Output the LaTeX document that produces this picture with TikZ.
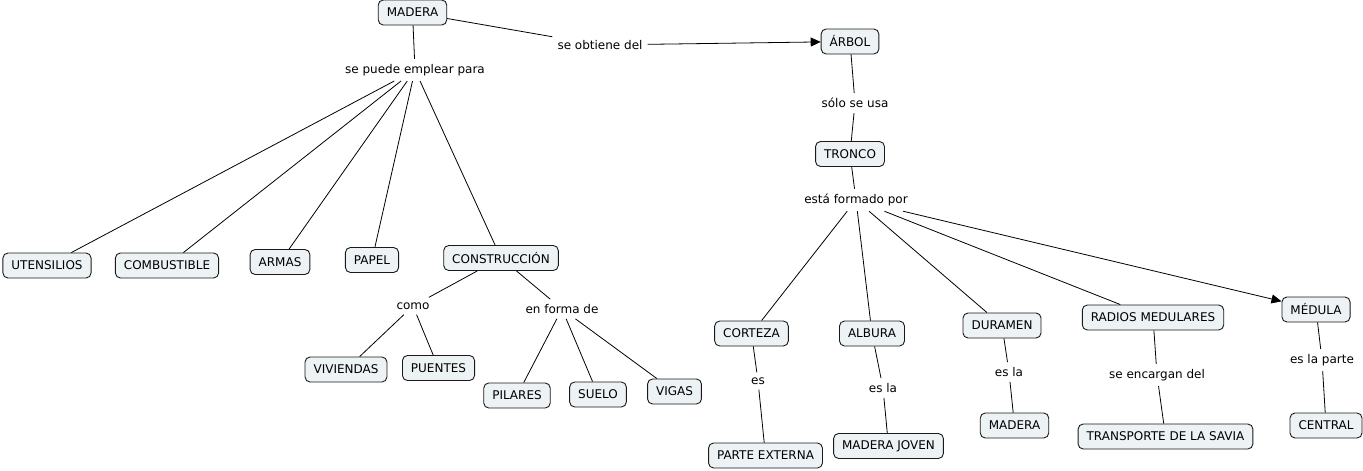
\documentclass[tikz,border=0pt]{standalone}
\usepackage{fontspec}
\setmainfont{DejaVu Sans}
\usetikzlibrary{arrows.meta}
\definecolor{cfill}{HTML}{EDF2F5}
\definecolor{cline}{HTML}{1A1A1A}
\tikzset{
  concept/.style={draw=cline, fill=cfill, rounded corners=5pt, line width=0.9pt,
    inner xsep=8.5pt, minimum height=25pt, font=\fontsize{12}{14}\selectfont},
  linkl/.style={inner sep=5pt, font=\fontsize{12}{14}\selectfont},
  conn/.style={draw=black, line width=0.8pt},
  arr/.style={conn, -{Triangle[length=10pt,width=9pt]}}
}
\begin{document}
\begin{tikzpicture}[x=1pt,y=-1pt]
\fill[white] (0,0) rectangle (1363,471);
\useasboundingbox (0,0) rectangle (1363,471);
% concepts
\node[concept] (madera) at (412.5,12.5) {MADERA};
\node[concept] (arbol) at (850,41.5) {ÁRBOL};
\node[concept] (tronco) at (850,154) {TRONCO};
\node[concept] (uten) at (47,265.5) {UTENSILIOS};
\node[concept] (comb) at (167,265.5) {COMBUSTIBLE};
\node[concept] (armas) at (280,262) {ARMAS};
\node[concept] (papel) at (372,260) {PAPEL};
\node[concept] (constr) at (501,258) {CONSTRUCCIÓN};
\node[concept] (viv) at (346,369.5) {VIVIENDAS};
\node[concept] (puen) at (438.5,368) {PUENTES};
\node[concept] (pil) at (517,395.5) {PILARES};
\node[concept] (suelo) at (598,394.5) {SUELO};
\node[concept] (vigas) at (674.5,391.5) {VIGAS};
\node[concept] (cort) at (751.5,333.5) {CORTEZA};
\node[concept] (alb) at (872,333.5) {ALBURA};
\node[concept] (dur) at (1002,325.5) {DURAMEN};
\node[concept] (radios) at (1153,317.5) {RADIOS MEDULARES};
\node[concept] (med) at (1316,309.5) {MÉDULA};
\node[concept] (pext) at (765.5,455.5) {PARTE EXTERNA};
\node[concept] (mjov) at (888.5,446) {MADERA JOVEN};
\node[concept] (mad2) at (1014.5,425.5) {MADERA};
\node[concept] (trans) at (1165.5,436.5) {TRANSPORTE DE LA SAVIA};
\node[concept] (central) at (1326,425.5) {CENTRAL};
% linking phrases
\node[linkl] (obt) at (600,45) {se obtiene del};
\node[linkl] (emp) at (415,70) {se puede emplear para};
\node[linkl] (solo) at (855,103) {sólo se usa};
\node[linkl] (form) at (856,200) {está formado por};
\node[linkl] (como) at (413,306) {como};
\node[linkl] (forma) at (562,309) {en forma de};
\node[linkl] (es) at (758,381) {es};
\node[linkl] (esla1) at (883,388) {es la};
\node[linkl] (esla2) at (1009,372) {es la};
\node[linkl] (encar) at (1157,375) {se encargan del};
\node[linkl] (parte) at (1322,360) {es la parte};
% connectors
\draw[conn] (madera) -- (obt);
\draw[arr] (obt) -- (arbol);
\draw[conn] (madera) -- (emp);
\draw[conn] (emp) -- (uten);
\draw[conn] (emp) -- (comb);
\draw[conn] (emp) -- (armas);
\draw[conn] (emp) -- (papel);
\draw[conn] (emp) -- (constr);
\draw[conn] (constr) -- (como);
\draw[conn] (constr) -- (forma);
\draw[conn] (como) -- (viv);
\draw[conn] (como) -- (puen);
\draw[conn] (forma) -- (pil);
\draw[conn] (forma) -- (suelo);
\draw[conn] (forma) -- (vigas);
\draw[conn] (arbol) -- (solo);
\draw[conn] (solo) -- (tronco);
\draw[conn] (tronco) -- (form);
\draw[conn] (form) -- (cort);
\draw[conn] (form) -- (alb);
\draw[conn] (form) -- (dur);
\draw[conn] (form) -- (radios);
\draw[arr] (form) -- (med);
\draw[conn] (cort) -- (es);
\draw[conn] (es) -- (pext);
\draw[conn] (alb) -- (esla1);
\draw[conn] (esla1) -- (mjov);
\draw[conn] (dur) -- (esla2);
\draw[conn] (esla2) -- (mad2);
\draw[conn] (radios) -- (encar);
\draw[conn] (encar) -- (trans);
\draw[conn] (med) -- (parte);
\draw[conn] (parte) -- (central);
\end{tikzpicture}
\end{document}
